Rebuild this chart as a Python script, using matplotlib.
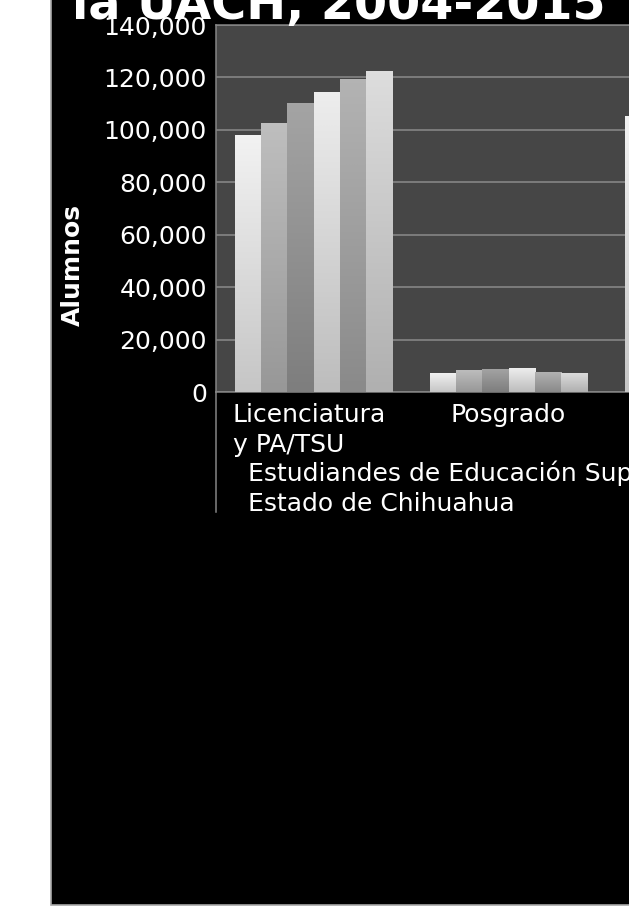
import numpy as np
import matplotlib
matplotlib.use("Agg")
import matplotlib.pyplot as plt
from matplotlib.patches import Rectangle
from matplotlib.lines import Line2D
from matplotlib.colors import to_rgb
from matplotlib.ticker import FuncFormatter, MultipleLocator
from matplotlib.transforms import ScaledTranslation

# ---- data ----
categories = ["Licenciatura\ny PA/TSU", "Posgrado", "Total"]
series_names = ["2010", "2011", "2012", "2013", "2014", "2015"]
licenciatura = [98000, 102600, 110300, 114400, 119400, 122500]
posgrado = [7250, 8400, 8800, 9150, 7650, 7250]
total = [105300, 111000, 119100, 123550, 127050, 129750]
outer_label = "Estudiandes de Educación Superior del\nEstado de Chihuahua"
title = "la UACH, 2004-2015"
ylabel = "Alumnos"

values = np.array([licenciatura, posgrado, total]).T  # series x categories

# gradient colours (top, bottom) per series
grad = [("#f2f2f2", "#c6c6c6"),
        ("#bebebe", "#989898"),
        ("#a4a4a4", "#7e7e7e"),
        ("#ededed", "#bdbdbd"),
        ("#b3b3b3", "#8a8a8a"),
        ("#dddddd", "#b0b0b0")]

W, H = 629, 906
fig = plt.figure(figsize=(W / 100, H / 100), dpi=100, facecolor="white")

# black chart background
fig.patches.append(Rectangle((51 / W, 1 / H), 1.0, 1.2, transform=fig.transFigure,
                             facecolor="black", edgecolor="#a8a8a8", lw=1.2, zorder=-5))

cat_w = 195
ax_left, ax_top, ax_bottom = 216, 25, 392
ax = fig.add_axes([ax_left / W, 1 - ax_bottom / H, cat_w * len(categories) / W,
                   (ax_bottom - ax_top) / H])
ax.set_zorder(1)
ax.set_facecolor("#464646")

n = len(series_names)
bw = 157 / 195 / n
x = np.arange(len(categories))
for i in range(n):
    bars = ax.bar(x + (i - (n - 1) / 2) * bw, values[i], width=bw, color=grad[i][1],
                  edgecolor="none", zorder=2)
    cmap = matplotlib.colors.LinearSegmentedColormap.from_list(
        "g%d" % i, [to_rgb(grad[i][1]), to_rgb(grad[i][0])])
    for b in bars:
        x0, y0 = b.get_x(), b.get_y()
        im = ax.imshow(np.linspace(0, 1, 64).reshape(-1, 1), cmap=cmap, origin="lower",
                       extent=[x0, x0 + b.get_width(), y0, y0 + b.get_height()],
                       aspect="auto", zorder=3, interpolation="bilinear")
        im.set_clip_path(b)

ax.set_xlim(-0.5, len(categories) - 0.5)
ax.set_ylim(0, 140000)
ax.yaxis.set_major_locator(MultipleLocator(20000))
ax.yaxis.set_major_formatter(FuncFormatter(lambda v, p: "{:,.0f}".format(v)))
ax.grid(axis="y", color="#8a8a8a", lw=1.1, zorder=1)
ax.set_axisbelow(True)
for s in ax.spines.values():
    s.set_color("#858585")
    s.set_linewidth(1.1)

ax.tick_params(axis="y", length=0, pad=6.5, labelsize=18, labelcolor="white")
ax.tick_params(axis="x", length=0, pad=8, labelsize=18, labelcolor="white")
ax.set_xticks(x)
ax.set_xticklabels(categories, multialignment="left", linespacing=1.3)
for t in ax.get_yticklabels() + ax.get_xticklabels():
    t.set_family("DejaVu Sans")
first = ax.get_xticklabels()[0]
first.set_transform(first.get_transform() + ScaledTranslation(-4 / 100, 0, fig.dpi_scale_trans))

# category divider line
fig.add_artist(Line2D([ax_left / W, ax_left / W], [1 - 392 / H, 1 - 512 / H],
                      transform=fig.transFigure, color="#858585", lw=1.1))

fig.text(248 / W, 1 - 460 / H, outer_label, color="white", fontsize=18,
         ha="left", va="top", multialignment="left", linespacing=1.35)

fig.text(73 / W, 1 - 265 / H, ylabel, color="white", fontsize=18, fontweight="bold",
         rotation=90, ha="center", va="center")

fig.text(72 / W, 1 - 19 / H, title, color="white", fontsize=34.3, fontweight="bold",
         ha="left", va="baseline", zorder=5)

fig.savefig("out.png", dpi=100, facecolor="white")
